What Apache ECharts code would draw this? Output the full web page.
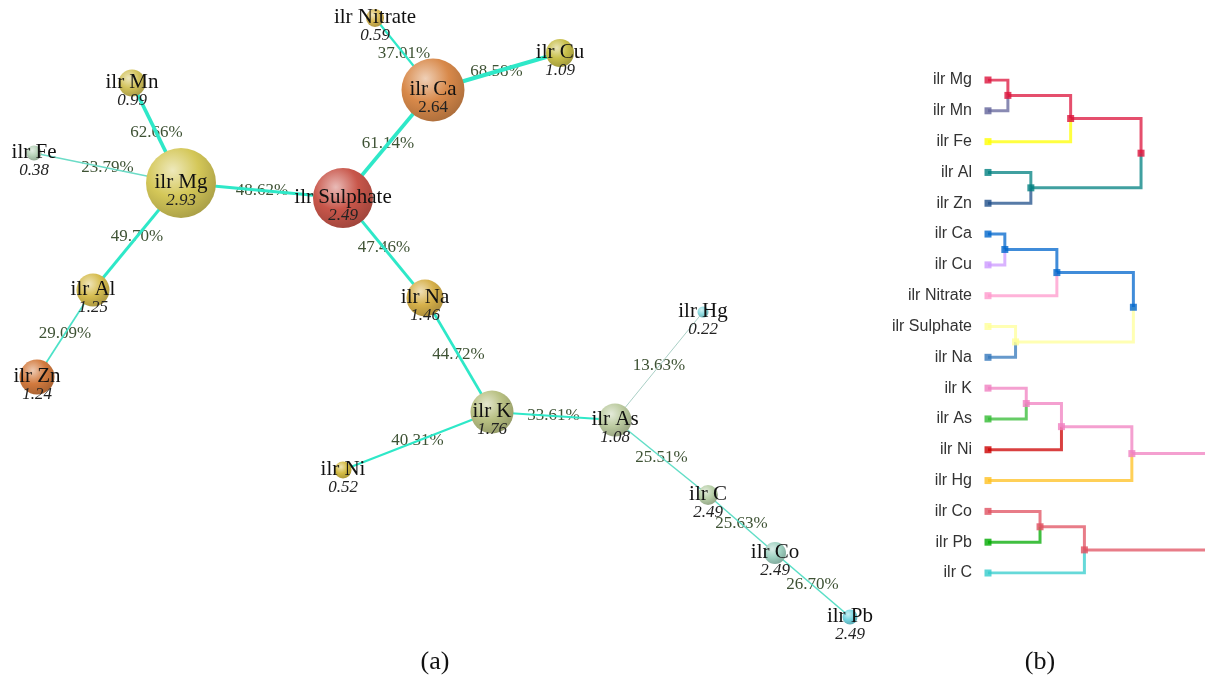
<!DOCTYPE html>
<html>
<head>
<meta charset="utf-8">
<script src="https://cdn.jsdelivr.net/npm/echarts@6/dist/echarts.min.js"></script>
<style>
  html, body { margin: 0; padding: 0; background: #ffffff; }
  #main { width: 1205px; height: 679px; }
</style>
</head>
<body>
<div id="main"></div>
<script>
// ---------- (a) network of ilr coordinates ----------
const nodeNames  = ['ilr Mg','ilr Mn','ilr Fe','ilr Al','ilr Zn','ilr Sulphate','ilr Ca','ilr Nitrate','ilr Cu','ilr Na','ilr K','ilr Ni','ilr As','ilr Hg','ilr C','ilr Co','ilr Pb'];
const nodeValues = [2.93, 0.99, 0.38, 1.25, 1.24, 2.49, 2.64, 0.59, 1.09, 1.46, 1.76, 0.52, 1.08, 0.22, 2.49, 2.49, 2.49];
// layout coordinates of the nodes (layout units)
const layoutX = [18.1, 13.2, 3.4, 9.3, 3.7, 34.3, 43.3, 37.5, 56.0, 42.5, 49.2, 34.3, 61.5, 70.3, 70.8, 77.5, 85.0];
const layoutY = [18.3, 8.3, 15.3, 29.0, 37.7, 19.8, 9.0, 1.8, 5.3, 29.8, 41.2, 47.0, 42.0, 31.2, 49.5, 55.3, 61.7];
// node mass, drawn as the sphere diameter
const nodeMass = [70, 27, 15, 33, 35, 60, 63, 18, 28, 37, 43, 17, 33, 11, 20, 22, 15];

const edgeFrom   = ['ilr Mg','ilr Mg','ilr Mg','ilr Mg','ilr Al','ilr Sulphate','ilr Ca','ilr Ca','ilr Sulphate','ilr Na','ilr K','ilr K','ilr As','ilr As','ilr C','ilr Co'];
const edgeTo     = ['ilr Mn','ilr Fe','ilr Sulphate','ilr Al','ilr Zn','ilr Ca','ilr Nitrate','ilr Cu','ilr Na','ilr K','ilr Ni','ilr As','ilr Hg','ilr C','ilr Co','ilr Pb'];
const edgeWeight = [62.66, 23.79, 48.62, 49.70, 29.09, 61.14, 37.01, 68.58, 47.46, 44.72, 40.31, 33.61, 13.63, 25.51, 25.63, 26.70];

// ---------- (b) dendrogram ----------
const leafNames = ['ilr Mg','ilr Mn','ilr Fe','ilr Al','ilr Zn','ilr Ca','ilr Cu','ilr Nitrate','ilr Sulphate','ilr Na','ilr K','ilr As','ilr Ni','ilr Hg','ilr Co','ilr Pb','ilr C'];
// linkage rows: [left child, right child, merge height]; ids >= 17 refer to earlier rows
const linkage = [
  [0, 1, 0.13], [17, 2, 0.54], [3, 4, 0.28], [18, 19, 1.00],
  [5, 6, 0.11], [21, 7, 0.45], [8, 9, 0.18], [22, 23, 0.95],
  [10, 11, 0.25], [25, 12, 0.48], [26, 13, 0.94],
  [14, 15, 0.34], [28, 16, 0.63], [27, 29, 1.60]
];

// ---------- styles ----------
const sphereColor = {
  'ilr Mg': '#d4c758', 'ilr Mn': '#d2c25a', 'ilr Fe': '#b6d2b8', 'ilr Al': '#d6bd50', 'ilr Zn': '#d27a3e',
  'ilr Sulphate': '#c8564a', 'ilr Ca': '#d8894a', 'ilr Nitrate': '#d8b852', 'ilr Cu': '#c8bf4a',
  'ilr Na': '#d6b04a', 'ilr K': '#b8c082', 'ilr Ni': '#d4bb44', 'ilr As': '#bccba0', 'ilr Hg': '#8cdbe0',
  'ilr C': '#b8cfa8', 'ilr Co': '#a0d2c2', 'ilr Pb': '#74d4e0'
};
const leafColor = {
  'ilr Mg': '#dc143c', 'ilr Mn': '#62639a', 'ilr Fe': '#ffff00', 'ilr Al': '#008080', 'ilr Zn': '#1f4f8a',
  'ilr Ca': '#0066cc', 'ilr Cu': '#cc99ff', 'ilr Nitrate': '#ff99cc', 'ilr Sulphate': '#ffff99', 'ilr Na': '#3377bb',
  'ilr K': '#f080c0', 'ilr As': '#33bb33', 'ilr Ni': '#cc0000', 'ilr Hg': '#ffc020',
  'ilr Co': '#e05060', 'ilr Pb': '#00aa00', 'ilr C': '#33cccc'
};
const SERIF = '"Liberation Serif", "Times New Roman", serif';
const SANS = '"Liberation Sans", Arial, sans-serif';

function hexToRgb(h) {
  const v = parseInt(h.slice(1), 16);
  return [(v >> 16) & 255, (v >> 8) & 255, v & 255];
}
function mix(a, b, t) {
  const ca = hexToRgb(a), cb = hexToRgb(b);
  const c = ca.map((x, i) => Math.round(x + (cb[i] - x) * t));
  return 'rgb(' + c.join(',') + ')';
}
function sphere(hex) {
  return {
    type: 'radial', x: 0.38, y: 0.32, r: 0.75,
    colorStops: [
      { offset: 0, color: mix(hex, '#ffffff', 0.6) },
      { offset: 0.5, color: hex },
      { offset: 1, color: mix(hex, '#000000', 0.22) }
    ]
  };
}
function edgeColor(w) {
  const t = Math.max(0, Math.min(1, (w - 12) / 22));
  return mix('#b4cec6', '#2ee8c8', t);
}

// ---------- build network series ----------
const idx = {};
nodeNames.forEach((n, i) => { idx[n] = i; });

const graphNodes = nodeNames.map((n, i) => ({
  name: n,
  value: [layoutX[i], layoutY[i]],
  symbolSize: nodeMass[i],
  itemStyle: { color: sphere(sphereColor[n]) }
}));
const graphLinks = edgeFrom.map((s, i) => ({
  source: s,
  target: edgeTo[i],
  lineStyle: { width: Math.max(1, edgeWeight[i] / 17), color: edgeColor(edgeWeight[i]), opacity: 1, curveness: 0 }
}));
const edgeLabelData = edgeFrom.map((s, i) => {
  const a = idx[s], b = idx[edgeTo[i]];
  return [(layoutX[a] + layoutX[b]) / 2, (layoutY[a] + layoutY[b]) / 2, edgeWeight[i]];
});

// ---------- build dendrogram ----------
const nLeaf = leafNames.length;
const dNodes = leafNames.map((n, i) => ({ x: 0, y: i, color: leafColor[n] }));
const dLinks = [];
linkage.forEach(([a, b, h]) => {
  const na = dNodes[a], nb = dNodes[b];
  const parent = { x: h, y: (na.y + nb.y) / 2, color: na.color };
  [na, nb].forEach(c => {
    dLinks.push({
      coords: [[c.x, c.y], [h, c.y], [h, parent.y]],
      lineStyle: { color: c.color }
    });
  });
  dNodes.push(parent);
});
const dMarkers = dNodes.map(d => ({ value: [d.x, d.y], itemStyle: { color: d.color } }));

const chart = echarts.init(document.getElementById('main'), null, { renderer: 'canvas' });
chart.setOption({
  animation: false,
  backgroundColor: '#ffffff',
  grid: [
    { left: 0, top: 0, width: 880, height: 679, outerBoundsMode: 'none' },
    { left: 988, top: 80, right: 0, height: 493, outerBoundsMode: 'none' }
  ],
  xAxis: [
    { gridIndex: 0, type: 'value', min: 0, max: 88, show: false },
    { gridIndex: 1, type: 'value', min: 0, max: 1.418, show: false }
  ],
  yAxis: [
    { gridIndex: 0, type: 'value', min: 0, max: 67.9, inverse: true, show: false },
    {
      gridIndex: 1, type: 'value', min: 0, max: nLeaf - 1, interval: 1, inverse: true,
      axisLine: { show: false }, axisTick: { show: false }, splitLine: { show: false },
      axisLabel: {
        margin: 16, color: '#333333', fontFamily: SANS, fontSize: 16,
        formatter: v => leafNames[v] || ''
      }
    }
  ],
  series: [
    {
      // percentage labels sit under the edge lines
      type: 'scatter',
      xAxisIndex: 0, yAxisIndex: 0,
      data: edgeLabelData,
      symbolSize: 1,
      itemStyle: { color: 'rgba(0,0,0,0)' },
      label: {
        show: true,
        position: 'inside',
        formatter: p => p.value[2].toFixed(2) + '%',
        fontFamily: SERIF, fontSize: 17, color: '#3e5234',
        textBorderWidth: 0, textShadowBlur: 0, opacity: 1
      },
      silent: true,
      z: 1
    },
    {
      type: 'graph',
      layout: 'none',
      coordinateSystem: 'cartesian2d',
      xAxisIndex: 0, yAxisIndex: 0,
      roam: false,
      symbol: 'circle',
      data: graphNodes,
      links: graphLinks,
      label: {
        show: true,
        position: 'inside',
        offset: [0, 8],
        textBorderWidth: 0,
        formatter: p => '{n|' + p.name + '}\n{' + (p.name === 'ilr Ca' ? 'u' : 'v') + '|' + nodeValues[p.dataIndex].toFixed(2) + '}',
        rich: {
          n: { fontFamily: SERIF, fontSize: 21, color: '#111111', lineHeight: 20, align: 'center' },
          v: { fontFamily: SERIF, fontSize: 17, fontStyle: 'italic', color: '#222222', lineHeight: 18, align: 'center' },
          u: { fontFamily: SERIF, fontSize: 17, color: '#222222', lineHeight: 18, align: 'center' }
        }
      },
      emphasis: { disabled: true },
      z: 2
    },
    {
      type: 'lines',
      coordinateSystem: 'cartesian2d',
      xAxisIndex: 1, yAxisIndex: 1,
      polyline: true,
      clip: true,
      data: dLinks,
      lineStyle: { width: 3, opacity: 0.75 },
      silent: true,
      z: 2
    },
    {
      type: 'scatter',
      xAxisIndex: 1, yAxisIndex: 1,
      symbol: 'rect',
      symbolSize: 7,
      clip: true,
      data: dMarkers,
      silent: true,
      z: 3
    }
  ],
  graphic: [
    { type: 'text', x: 435, y: 662, style: { text: '(a)', font: '26px ' + SERIF, fill: '#111111', textAlign: 'center', textVerticalAlign: 'middle' } },
    { type: 'text', x: 1040, y: 662, style: { text: '(b)', font: '26px ' + SERIF, fill: '#111111', textAlign: 'center', textVerticalAlign: 'middle' } }
  ]
});
</script>
</body>
</html>
